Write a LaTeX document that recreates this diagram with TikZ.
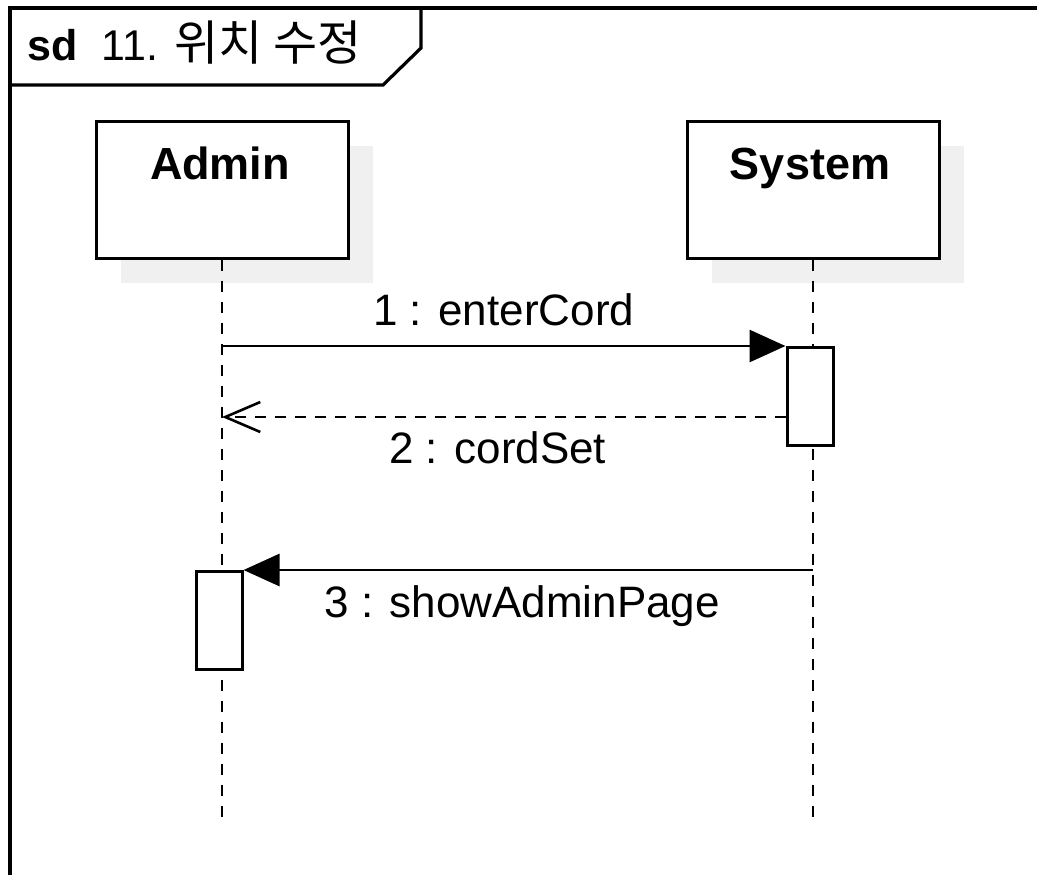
\documentclass[tikz,border=0pt]{standalone}
\usepackage{fontspec}
\setmainfont{Liberation Sans}
\newfontfamily\cjk{Noto Sans CJK KR}
\usetikzlibrary{arrows.meta,shadows}
\tikzset{
  actor/.style={draw, line width=1.5pt, fill=white, minimum width=126pt, minimum height=68.5pt,
    drop shadow={shadow xshift=12.5pt, shadow yshift=-12.5pt, fill=black!6, opacity=1}},
  actorlbl/.style={font=\bfseries\fontsize{22.5}{26}\selectfont, anchor=base},
  act/.style={draw, line width=1.5pt, fill=white, minimum width=23pt, minimum height=49pt, anchor=north},
  lifeline/.style={line width=1.3pt, dash pattern=on 5.5pt off 5pt},
  msg/.style={line width=1.4pt, -{Triangle[length=18pt, width=16pt]}},
  ret/.style={line width=1.3pt, dash pattern=on 5.5pt off 4.5pt, -{Straight Barb[length=17.5pt, width=15pt, line width=1.3pt]}},
  msglbl/.style={font=\fontsize{22}{26}\selectfont, anchor=base, inner sep=0pt}
}
\begin{document}
\begin{tikzpicture}[x=0.5pt, y=-0.5pt]
  \useasboundingbox (0,0) rectangle (1037,875);
  % frame
  \draw[line width=1.6pt] (10,875) -- (10,8) -- (1037,8);
  \draw[line width=1.6pt] (10,8) -| (421,48) -- (383,85) -- (10,85);
  \node[anchor=base west, inner sep=0pt, font=\fontsize{21.5}{24}\selectfont] (title) at (27,60)
    {\textbf{sd}\hspace{12pt}11. {\cjk\fontsize{24}{28}\selectfont 위치 수정}};

  % participants
  \node[actor] (admin) at (222,189.5) {};
  \node[actor] (system) at (813,189.5) {};
  \node[actorlbl] (adminlbl) at (220,179) {Admin};
  \node[actorlbl] (systemlbl) at (810,179) {System};
  \coordinate (adminend) at (222,822);
  \coordinate (systemend) at (813,822);
  \draw[lifeline] (admin.south) -- (adminend);
  \draw[lifeline] (system.south) -- (systemend);

  % activations
  \node[act] (sysact) at (810,346) {};
  \node[act] (admact) at (219,570) {};

  % messages
  \draw[msg] (admin |- sysact.north) -- node[msglbl, yshift=10.5pt] (m1) {1 : enterCord} (sysact.north west);
  \coordinate (r2) at (sysact.west |- 0,417);
  \draw[ret] (r2) -- node[msglbl, yshift=-23pt, xshift=-3pt] (m2) {2 : cordSet} (admin |- r2);
  \draw[msg] (system |- admact.north) -- node[msglbl, yshift=-23.5pt, xshift=-3pt] (m3) {3 : showAdminPage} (admact.north east);
\end{tikzpicture}
\end{document}
